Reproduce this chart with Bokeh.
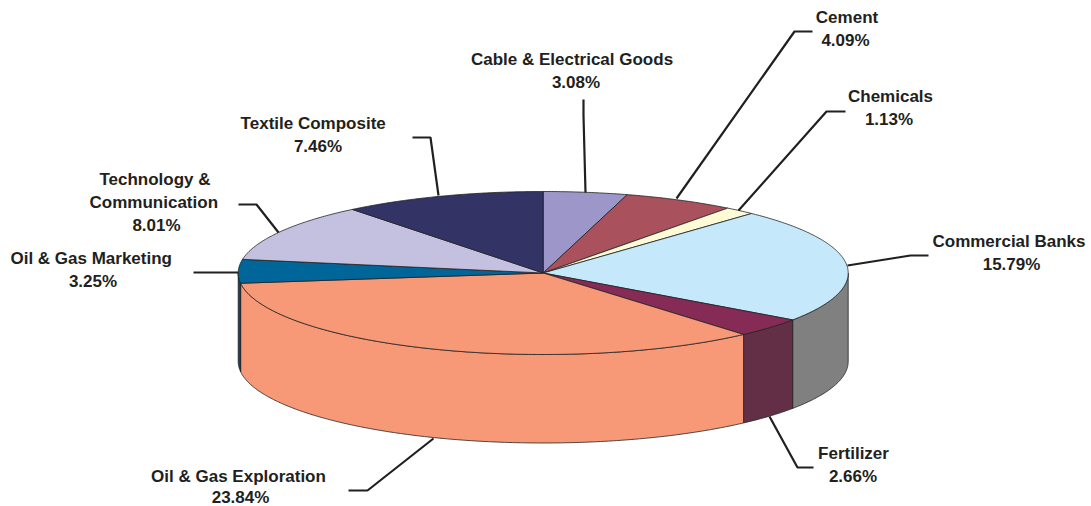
import numpy as np
from bokeh.plotting import figure
from bokeh.models import Range1d
from bokeh.core.properties import value
from bokeh.embed import file_html
from bokeh.resources import INLINE

categories = ["Cable & Electrical Goods", "Cement", "Chemicals", "Commercial Banks", "Fertilizer",
              "Oil & Gas Exploration", "Oil & Gas Marketing", "Technology &\nCommunication", "Textile Composite"]
shares = [3.08, 4.09, 1.13, 15.79, 2.66, 23.84, 3.25, 8.01, 7.46]
top_colors = ["#9D97C9", "#A9525D", "#FFFBD6", "#C5E8FA", "#862A56", "#F79877", "#006699", "#C4C1E0", "#333366"]
side_colors = ["#4E4B64", "#54292E", "#808066", "#808080", "#632F47", "#F79877", "#1D3F5C", "#626070", "#191933"]

CX, CY, RX, RY, DEPTH = 542.7, 272.5, 305.0, 81.5, 88.5
W, H = 1091, 506

p = figure(width=W, height=H, output_backend="svg", toolbar_location=None, min_border=0,
           x_range=Range1d(0, W), y_range=Range1d(H, 0))
p.axis.visible = False
p.grid.visible = False
p.outline_line_color = None


def rim(a0, a1):
    t = np.radians(np.linspace(a0, a1, max(3, int(abs(a1 - a0) * 2))))
    return CX + RX * np.sin(t), CY - RY * np.cos(t)


total = sum(shares)
edges = np.concatenate([[0], np.cumsum(shares) / total * 360])
# walls
for i in range(len(shares)):
    a0, a1 = max(edges[i], 90), min(edges[i + 1], 270)
    if a1 <= a0:
        continue
    x, y = rim(a0, a1)
    p.patch(np.r_[x, x[::-1]], np.r_[y, y[::-1] + DEPTH], fill_color=side_colors[i],
            line_color="#222222", line_width=0.8)
# top
for i in range(len(shares)):
    x, y = rim(edges[i], edges[i + 1])
    p.patch(np.r_[CX, x], np.r_[CY, y], fill_color=top_colors[i], line_color="#222222", line_width=0.8)

leaders = [
    ([583, 583, 585], [99, 115, 192]),
    ([812, 794, 676], [31, 31, 198]),
    ([845, 826, 738], [111, 111, 210]),
    ([928, 910, 847], [255, 255, 265]),
    ([813, 797, 769], [467, 467, 416]),
    ([348, 367, 433], [490, 490, 438]),
    ([193, 238], [272, 272]),
    ([238, 256, 278], [204, 204, 232]),
    ([412, 430, 438], [137, 137, 195]),
]
for lx, ly in leaders:
    p.line(lx, ly, line_color="#231F20", line_width=2.2)

# per-label: index, centre x of each text line, centre y of each text line
labels = [
    (0, [571.5, 575.5], [59, 82]),
    (1, [846.5, 845], [17, 40]),
    (2, [890, 888.5], [96, 119]),
    (3, [1008.5, 1011], [241, 264]),
    (4, [853, 852.5], [453, 476]),
    (5, [238, 240], [475.5, 496.5]),
    (6, [90.7, 92.5], [258, 281]),
    (7, [154.5, 153.3, 156], [179, 202, 225]),
    (8, [312.7, 317.5], [123, 146]),
]
for i, xs, ys in labels:
    lines = categories[i].split("\n") + [f"{shares[i]:.2f}%"]
    for s, lx, ly in zip(lines, xs, ys):
        p.text([lx], [ly], text=[s], text_font=value("Liberation Sans"), text_font_style="bold",
               text_font_size="17px", text_align="center", text_baseline="middle", text_color="#231F20")

open("out.html", "w").write(file_html(p, INLINE))
